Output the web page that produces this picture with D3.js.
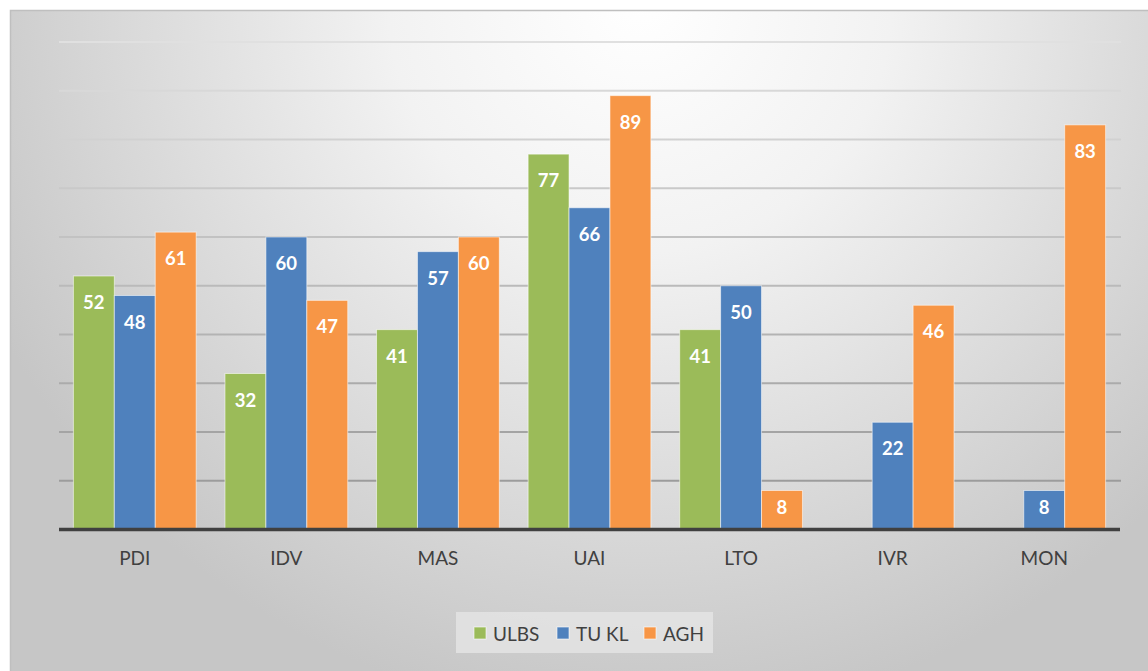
<!DOCTYPE html>
<html>
<head>
<meta charset="utf-8">
<script src="https://cdn.jsdelivr.net/npm/d3@7"></script>
<style>
  html, body { margin: 0; padding: 0; background: #ffffff; }
  svg { display: block; }
</style>
</head>
<body>
<svg id="chart" width="1148" height="671"></svg>
<script>
// Hofstede dimension scores per institution
const categories = ["PDI", "IDV", "MAS", "UAI", "LTO", "IVR", "MON"];
const seriesNames = ["ULBS", "TU KL", "AGH"];
const ulbs = [52, 32, 41, 77, 41, null, null];
const tukl = [48, 60, 57, 66, 50, 22, 8];
const agh  = [61, 47, 60, 89, 8, 46, 83];
const yTicks = [10, 20, 30, 40, 50, 60, 70, 80, 90, 100];
const colors = ["#9BBB59", "#4F81BD", "#F79646"];

const seriesValues = [ulbs, tukl, agh];

const svg = d3.select("#chart");
const W = 1148, H = 671;

// chart area background: soft radial gradient
const defs = svg.append("defs");
const grad = defs.append("radialGradient")
  .attr("id", "bg")
  .attr("gradientUnits", "userSpaceOnUse")
  .attr("cx", 640).attr("cy", 0).attr("r", 720);
grad.append("stop").attr("offset", "0%").attr("stop-color", "#ffffff");
grad.append("stop").attr("offset", "35%").attr("stop-color", "#f2f2f2");
grad.append("stop").attr("offset", "100%").attr("stop-color", "#c6c6c6");

svg.append("rect")
  .attr("x", 10.5).attr("y", 10.5)
  .attr("width", W).attr("height", H)
  .attr("fill", "url(#bg)")
  .attr("stroke", "#bfbfbf").attr("stroke-width", 1.5);

const plot = { left: 59, right: 1120, top: 42, bottom: 529.5 };

const x0 = d3.scaleBand()
  .domain(categories)
  .range([plot.left, plot.right])
  .paddingInner(0.19)
  .paddingOuter(0.095);

const x1 = d3.scaleBand()
  .domain(seriesNames)
  .range([0, x0.bandwidth()])
  .padding(0);

const y = d3.scaleLinear()
  .domain([0, 100])
  .range([plot.bottom, plot.top]);

// gridlines, darker toward the baseline
const gridColor = d3.scaleLinear().domain([10, 100]).range(["#9c9c9c", "#e0e0e0"]);
svg.append("g")
  .selectAll("line")
  .data(yTicks)
  .join("line")
  .attr("x1", plot.left).attr("x2", plot.right + 1)
  .attr("y1", d => y(d)).attr("y2", d => y(d))
  .attr("stroke", d => gridColor(d))
  .attr("stroke-width", 2);

// bars
const groups = svg.append("g")
  .selectAll("g")
  .data(categories)
  .join("g")
  .attr("transform", d => `translate(${x0(d)},0)`);

const cells = groups.selectAll("g.cell")
  .data((c, ci) => seriesNames.map((s, si) => ({ s, si, v: seriesValues[si][ci] })).filter(d => d.v != null))
  .join("g")
  .attr("class", "cell");

cells.append("rect")
  .attr("x", d => x1(d.s))
  .attr("y", d => y(d.v))
  .attr("width", x1.bandwidth())
  .attr("height", d => y(0) - y(d.v))
  .attr("fill", d => colors[d.si])
  .attr("stroke", "rgba(255,255,255,0.55)")
  .attr("stroke-width", 1);

cells.append("text")
  .attr("x", d => x1(d.s) + x1.bandwidth() / 2)
  .attr("y", d => {
    const h = y(0) - y(d.v);
    return y(d.v) + Math.min(26, h / 2 - 3);
  })
  .attr("text-anchor", "middle")
  .attr("dominant-baseline", "central")
  .attr("fill", "#ffffff")
  .attr("font-family", "Lato, 'Open Sans', sans-serif")
  .attr("font-weight", "bold")
  .attr("font-size", 18.5)
  .text(d => d.v);

// baseline axis
const xAxis = d3.axisBottom(x0).tickSize(0).tickPadding(22);
const axisG = svg.append("g")
  .attr("transform", `translate(0,${plot.bottom})`)
  .call(xAxis);
axisG.select(".domain").attr("stroke", "#404040").attr("stroke-width", 3.5)
  .attr("d", `M${plot.left},0H${plot.right}`);
axisG.selectAll("text")
  .attr("fill", "#404040")
  .attr("font-family", "Lato, 'Open Sans', sans-serif")
  .attr("font-size", 19);

// legend
const legend = svg.append("g");
legend.append("rect")
  .attr("x", 456).attr("y", 612).attr("width", 257).attr("height", 41)
  .attr("fill", "#e2e2e2").attr("opacity", 0.9);
const legendX = [474, 557, 644];
const items = legend.selectAll("g.item")
  .data(seriesNames)
  .join("g")
  .attr("class", "item")
  .attr("transform", (d, i) => `translate(${legendX[i]},627)`);
items.append("rect")
  .attr("width", 12).attr("height", 12)
  .attr("fill", (d, i) => colors[i])
  .attr("stroke", "rgba(255,255,255,0.6)").attr("stroke-width", 1);
items.append("text")
  .attr("x", 19).attr("y", 6)
  .attr("dominant-baseline", "central")
  .attr("fill", "#404040")
  .attr("font-family", "Lato, 'Open Sans', sans-serif")
  .attr("font-size", 19)
  .text(d => d);
</script>
</body>
</html>
